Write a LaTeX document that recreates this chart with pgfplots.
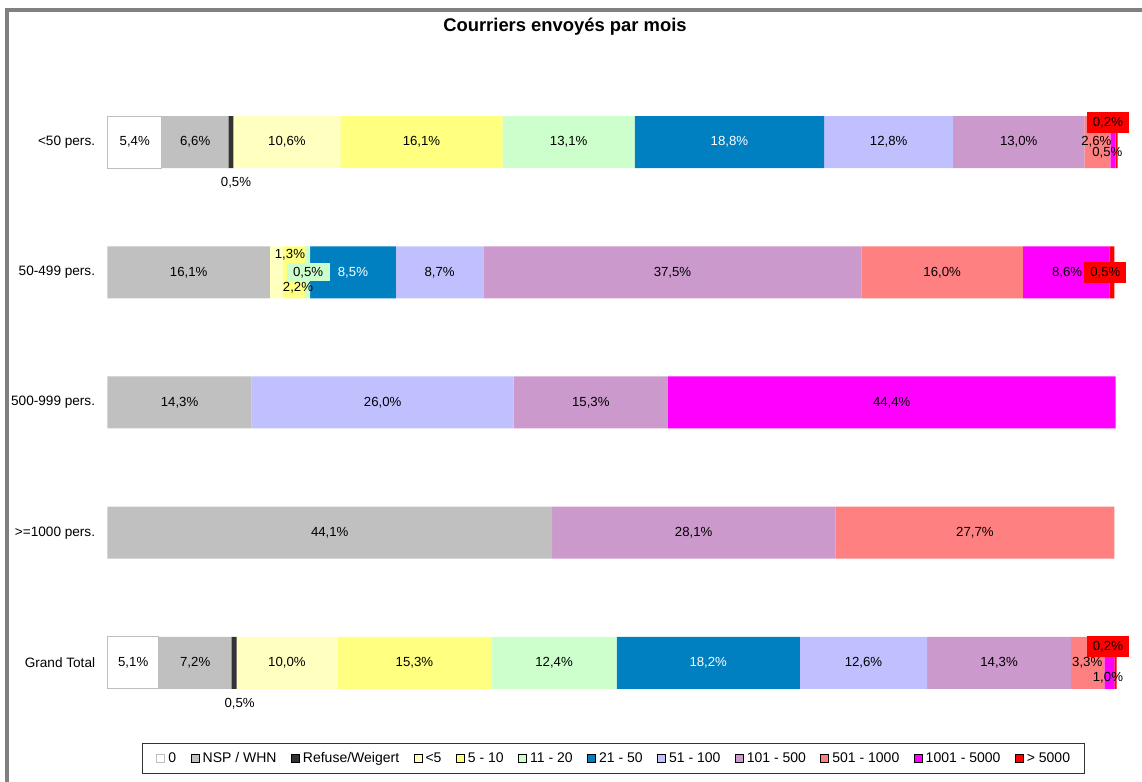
\documentclass[border=0pt]{standalone}
\usepackage{fontspec}
\setmainfont{Liberation Sans}
\usepackage{pgfplots}
\usepackage{pgfplotstable}
\pgfplotsset{compat=1.18}

\definecolor{cnsp}{RGB}{192,192,192}
\definecolor{cref}{RGB}{51,51,51}
\definecolor{clta}{RGB}{255,255,192}
\definecolor{cfive}{RGB}{255,255,128}
\definecolor{celev}{RGB}{204,255,204}
\definecolor{ctwen}{RGB}{0,128,192}
\definecolor{cfift}{RGB}{192,192,255}
\definecolor{chund}{RGB}{204,153,204}
\definecolor{cfivh}{RGB}{255,128,128}
\definecolor{cthou}{RGB}{255,0,255}
\definecolor{cmax}{RGB}{255,0,0}
\definecolor{cframe}{RGB}{128,128,128}
\definecolor{cwbord}{RGB}{190,190,190}

\newcommand{\labfont}{\fontsize{6.6}{7.9}\selectfont}
\newcommand{\catfont}{\fontsize{6.8}{8.1}\selectfont}
\newcommand{\legfont}{\fontsize{7}{8.4}\selectfont}

\pgfplotstableread{
x y t
2.7 4 5,4
8.7 4 6,6
12.75 3.69 0,5
17.8 4 10,6
31.15 4 16,1
45.75 4 13,1
77.5 4 12,8
90.4 4 13,0
98.1 4 2,6
99.2 3.916 0,5
8.05 3 16,1
18.1 3.132 1,3
18.9 2.879 2,2
32.95 3 8,7
56.05 3 37,5
82.8 3 16,0
95.2 3 8,6
7.15 2 14,3
27.3 2 26,0
47.95 2 15,3
77.8 2 44,4
22.05 1 44,1
58.15 1 28,1
86.05 1 27,7
2.55 0 5,1
8.7 0 7,2
13.1 -0.315 0,5
17.8 0 10,0
30.45 0 15,3
44.3 0 12,4
75.0 0 12,6
88.45 0 14,3
97.2 0 3,3
99.25 -0.115 1,0
}\labdark

\pgfplotstableread{
x y t
61.7 4 18,8
24.35 3 8,5
59.6 0 18,2
}\labwhite

\pgfplotstableread{
x y t
99.25 4.146 0,2
99.0 3 0,5
99.25 0.123 0,2
}\labred

\pgfplotstableread{
x y t
19.9 3 0,5
}\labgreen

\begin{document}
\begin{tikzpicture}
\begin{axis}[
  at={(53.75pt,26.95pt)}, anchor=south west, scale only axis,
  width=504pt, height=325.6pt,
  xmin=0, xmax=100, ymin=-0.5, ymax=4.5,
  xbar stacked, bar width=26pt,
  axis line style={draw=none}, tick style={draw=none},
  major tick length=0pt,
  xtick=\empty, ytick={0,1,2,3,4},
  yticklabels={Grand Total,{>=1000 pers.},{500-999 pers.},{50-499 pers.},{<50 pers.}},
  yticklabel style={font=\catfont, inner sep=0pt, xshift=-6pt, anchor=east, text=black},
  clip=false,
  legend columns=12,
  legend image code/.code={\filldraw[#1] (0pt,-2pt) rectangle (4pt,2pt);},
  legend style={at={(0.0342,-0.0229)}, anchor=north west,
    draw=black!80, line width=0.5pt, inner xsep=7pt, inner ysep=4.3pt,
    font=\legfont, column sep=0pt, nodes={inner sep=0pt},
    /tikz/every odd column/.append style={column sep=1.5pt},
    /tikz/every even column/.append style={column sep=7.2pt}},
  legend cell align=left,
]
\addplot[fill=white, draw=cwbord, line width=0.5pt] coordinates {(5.4,4) (0,3) (0,2) (0,1) (5.1,0)};
\addplot[fill=cnsp, draw=none] coordinates {(6.6,4) (16.1,3) (14.3,2) (44.1,1) (7.2,0)};
\addplot[fill=cref, draw=none] coordinates {(0.5,4) (0,3) (0,2) (0,1) (0.5,0)};
\addplot[fill=clta, draw=none] coordinates {(10.6,4) (1.3,3) (0,2) (0,1) (10.0,0)};
\addplot[fill=cfive, draw=none] coordinates {(16.1,4) (2.2,3) (0,2) (0,1) (15.3,0)};
\addplot[fill=celev, draw=none] coordinates {(13.1,4) (0.5,3) (0,2) (0,1) (12.4,0)};
\addplot[fill=ctwen, draw=none] coordinates {(18.8,4) (8.5,3) (0,2) (0,1) (18.2,0)};
\addplot[fill=cfift, draw=none] coordinates {(12.8,4) (8.7,3) (26.0,2) (0,1) (12.6,0)};
\addplot[fill=chund, draw=none] coordinates {(13.0,4) (37.5,3) (15.3,2) (28.1,1) (14.3,0)};
\addplot[fill=cfivh, draw=none] coordinates {(2.6,4) (16.0,3) (0,2) (27.7,1) (3.3,0)};
\addplot[fill=cthou, draw=none] coordinates {(0.5,4) (8.6,3) (44.4,2) (0,1) (1.0,0)};
\addplot[fill=cmax, draw=none] coordinates {(0.2,4) (0.5,3) (0,2) (0,1) (0.2,0)};
\legend{0,NSP / WHN,Refuse/Weigert,<5,5 - 10,11 - 20,21 - 50,51 - 100,101 - 500,501 - 1000,1001 - 5000,> 5000}
\end{axis}
\begin{axis}[
  at={(53.75pt,26.95pt)}, anchor=south west, scale only axis,
  width=504pt, height=325.6pt,
  xmin=0, xmax=100, ymin=-0.5, ymax=4.5,
  hide axis, clip=false,
]
\addplot[only marks, mark=none, point meta=explicit symbolic,
  nodes near coords={\pgfplotspointmeta\%},
  every node near coord/.append style={font=\labfont, text=black, anchor=center, inner sep=0pt}]
  table[x=x,y=y,meta=t]{\labdark};
\addplot[only marks, mark=none, point meta=explicit symbolic,
  nodes near coords={\pgfplotspointmeta\%},
  every node near coord/.append style={font=\labfont, text=white, anchor=center, inner sep=0pt}]
  table[x=x,y=y,meta=t]{\labwhite};
\addplot[only marks, mark=none, point meta=explicit symbolic,
  nodes near coords={\pgfplotspointmeta\%},
  every node near coord/.append style={font=\labfont, text=black, anchor=center, inner sep=0pt,
    fill=celev, minimum width=21.5pt, minimum height=9pt}]
  table[x=x,y=y,meta=t]{\labgreen};
\addplot[only marks, mark=none, point meta=explicit symbolic,
  nodes near coords={\pgfplotspointmeta\%},
  every node near coord/.append style={font=\labfont, text=black, anchor=center, inner sep=0pt,
    fill=cmax, minimum width=21pt, minimum height=10.5pt}]
  table[x=x,y=y,meta=t]{\labred};
\end{axis}
\draw[cframe, line width=2pt] (3.5pt,0pt) -- (3.5pt,385.85pt) -- (571pt,385.85pt);
\node[anchor=base, font=\bfseries\fontsize{9.2}{11}\selectfont] at (282.5pt,375pt) {Courriers envoyés par mois};
\pgfresetboundingbox
\useasboundingbox (0pt,0pt) rectangle (571pt,391pt);
\end{tikzpicture}
\end{document}
